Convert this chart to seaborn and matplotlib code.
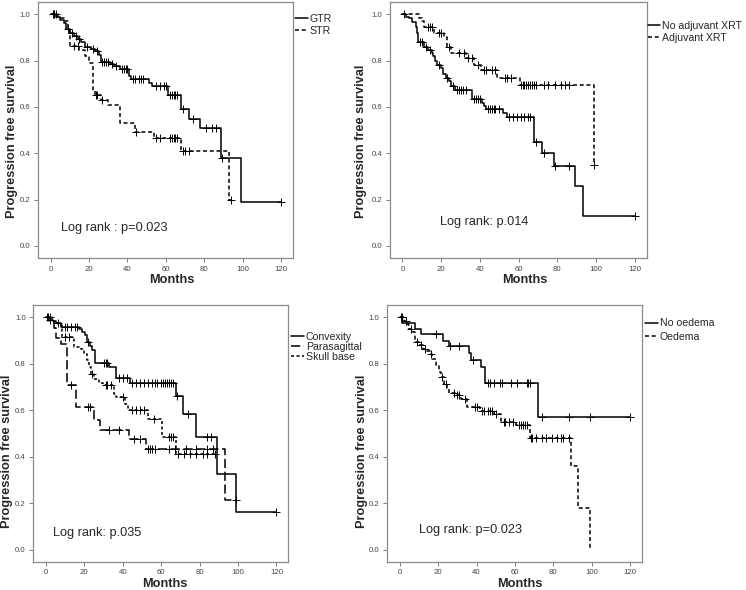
import numpy as np
import pandas as pd
import matplotlib
matplotlib.use("Agg")
import matplotlib.pyplot as plt
from matplotlib.lines import Line2D
import seaborn as sns

# ---------------- data ----------------
# Panel A: extent of resection
gtr_t = [3, 5, 7, 8, 10, 12, 14, 16, 18, 21, 23, 25, 26, 31, 33, 36, 41, 42, 51, 53, 61, 68, 72, 78, 89, 99]
gtr_s = [0.99, 0.975, 0.96, 0.935, 0.92, 0.905, 0.895, 0.88, 0.86, 0.85, 0.84, 0.825, 0.795, 0.785, 0.775,
         0.765, 0.735, 0.72, 0.705, 0.69, 0.65, 0.59, 0.55, 0.51, 0.38, 0.19]
gtr_c = [1, 2, 9, 11, 13, 15, 19, 22, 24, 27, 28, 29, 30, 32, 34, 37, 38, 39, 40, 43, 44, 46, 47, 48, 55, 57,
         59, 60, 62, 63, 64, 65, 66, 69, 74, 81, 84, 86, 89.5, 120]
str_t = [4, 7, 9, 10, 15, 18, 20, 22, 23, 26, 30, 36, 44, 54, 68, 93]
str_s = [0.985, 0.97, 0.93, 0.865, 0.845, 0.82, 0.79, 0.67, 0.65, 0.63, 0.61, 0.53, 0.49, 0.465, 0.41, 0.20]
str_c = [2, 3, 12, 14, 23.5, 24, 27, 44.5, 55, 57, 62, 63, 64, 65, 66, 69, 70, 72, 94]

# Panel B: adjuvant radiotherapy
noxrt_t = [2, 3.5, 5, 7, 7.5, 8, 11, 13, 15, 16, 17, 18, 20, 21, 22.5, 24, 25, 27, 36, 41, 42, 43, 52, 54,
           68, 72, 78, 89, 93]
noxrt_s = [0.99, 0.985, 0.968, 0.947, 0.918, 0.878, 0.86, 0.847, 0.832, 0.818, 0.797, 0.782, 0.768, 0.74,
           0.725, 0.71, 0.69, 0.672, 0.635, 0.617, 0.603, 0.592, 0.575, 0.557, 0.45, 0.40, 0.345, 0.26, 0.13]
noxrt_c = [1, 9, 10, 12, 14, 19, 23, 26, 28, 29, 30, 31, 33, 37, 38, 39, 40, 44, 45, 46, 47, 48, 50, 55, 57,
           59, 61, 63, 65, 66, 69, 73, 79, 86, 120]
xrt_t = [8.5, 10, 11, 16.5, 21.5, 23, 25, 33, 37, 40.5, 49, 60.5, 99]
xrt_s = [0.985, 0.97, 0.947, 0.918, 0.9, 0.86, 0.832, 0.81, 0.782, 0.76, 0.725, 0.695, 0.35]
xrt_c = [13, 14, 15, 19, 20, 24, 29, 32, 34, 36, 39, 42, 43, 46, 48, 53, 54, 56, 61, 62, 63, 64, 65, 66, 67,
         68, 69, 73, 75, 79, 82, 84, 86, 99]

# Panel C: tumour location
conv_t = [1, 3.5, 5, 8, 17, 19, 20.5, 21.5, 23, 24, 25.5, 33, 36.5, 43.5, 67.5, 71.5, 78, 89, 99]
conv_s = [0.99, 0.985, 0.975, 0.958, 0.951, 0.937, 0.922, 0.894, 0.875, 0.858, 0.805, 0.786, 0.74, 0.719,
          0.66, 0.585, 0.485, 0.325, 0.16]
conv_c = [0.5, 2, 6, 10, 11, 13, 15, 16, 22, 30, 31, 32, 38, 40, 42, 45, 47, 49, 51, 53, 55, 57, 58, 60, 61,
          62, 63, 64, 65, 66, 68, 74, 84, 86, 120]
para_t = [2, 4, 5, 8, 11, 15.5, 25, 28, 43, 52, 93]
para_s = [0.985, 0.955, 0.91, 0.885, 0.71, 0.614, 0.557, 0.514, 0.475, 0.433, 0.215]
para_c = [13, 22, 23, 33, 38, 46, 49, 53, 54, 55, 57, 64, 67, 73, 78, 84, 87, 99]
skull_t = [3, 4, 6, 8.5, 14.5, 18, 20, 21.5, 22.5, 23.5, 25, 27.5, 29.5, 35.5, 36.5, 41, 42.5, 53, 60.5, 67.5]
skull_s = [0.985, 0.975, 0.966, 0.915, 0.872, 0.862, 0.843, 0.815, 0.786, 0.757, 0.736, 0.719, 0.71, 0.671,
           0.657, 0.628, 0.6, 0.564, 0.485, 0.41]
skull_c = [1, 2, 10, 12, 24, 31, 32, 34, 40, 45, 47, 49, 51, 56, 64, 65, 66, 69, 72, 75, 78, 82, 84, 88]

# Panel D: peritumoural oedema
noed_t = [1, 8, 11, 22.5, 25.5, 36, 37, 42.5, 44.5, 72]
noed_s = [0.975, 0.951, 0.927, 0.90, 0.875, 0.845, 0.815, 0.785, 0.716, 0.573]
noed_c = [0.5, 19, 26, 31, 38, 46, 47, 49, 52, 53, 58, 61, 66, 67, 68, 74, 88, 99, 120]
oed_t = [2, 4, 5, 7, 8, 10, 12, 14, 15.5, 17, 19, 20.5, 21.5, 23, 24.5, 25.5, 29, 32, 35, 41.5, 49, 52.5,
         60.5, 68, 89, 93, 99]
oed_s = [0.985, 0.965, 0.95, 0.935, 0.895, 0.88, 0.865, 0.855, 0.844, 0.822, 0.793, 0.765, 0.743, 0.714,
         0.695, 0.675, 0.664, 0.65, 0.614, 0.595, 0.585, 0.55, 0.535, 0.48, 0.36, 0.18, 0.0]
oed_c = [1, 3, 6, 9, 11, 13, 16, 22, 24, 28, 30, 31, 34, 39, 40, 43, 44, 46, 47, 48, 50, 54, 55, 57, 59, 62,
         63, 64, 65, 66, 68.5, 69, 71, 74, 76, 79, 82, 84, 85, 88]

x_ticks = [0, 20, 40, 60, 80, 100, 120]
y_ticks = [0.0, 0.2, 0.4, 0.6, 0.8, 1.0]
x_label = "Months"
y_label = "Progression free survival"

SOLID = "-"
SHORT = (0, (2.6, 1.8))
LONG = (0, (6.0, 2.4))
SKULL = (0, (2.0, 1.6))

panels = [
    dict(curves=[("GTR", gtr_t, gtr_s, gtr_c, SOLID), ("STR", str_t, str_s, str_c, SHORT)],
         text="Log rank : p=0.023", rect=[0.0509, 0.5627, 0.342, 0.434],
         txt=(0.09, 0.117), leg=(1.008, 0.953), lsp=0.2, ylab=(-0.078, 0.457), xlab=(0.525, -0.0625)),
    dict(curves=[("No adjuvant XRT", noxrt_t, noxrt_s, noxrt_c, SOLID), ("Adjuvant XRT", xrt_t, xrt_s, xrt_c, SHORT)],
         text="Log rank: p.014", rect=[0.5224, 0.5627, 0.345, 0.434],
         txt=(0.195, 0.142), leg=(1.002, 0.925), lsp=0.15, ylab=(-0.088, 0.457), xlab=(0.525, -0.0625)),
    dict(curves=[("Convexity", conv_t, conv_s, conv_c, SOLID), ("Parasagittal", para_t, para_s, para_c, LONG),
                 ("Skull base", skull_t, skull_s, skull_c, SKULL)],
         text="Log rank: p.035", rect=[0.0447, 0.048, 0.342, 0.435],
         txt=(0.078, 0.11), leg=(1.01, 0.895), lsp=0.0, ylab=(-0.08, 0.431), xlab=(0.515, -0.064)),
    dict(curves=[("No oedema", noed_t, noed_s, noed_c, SOLID), ("Oedema", oed_t, oed_s, oed_c, SHORT)],
         text="Log rank: p=0.023", rect=[0.519, 0.048, 0.342, 0.435],
         txt=(0.123, 0.123), leg=(1.01, 0.948), lsp=0.3, ylab=(-0.077, 0.431), xlab=(0.519, -0.064)),
]

sns.set_theme(style="white")
plt.rcParams["font.family"] = ["Liberation Sans", "DejaVu Sans"]

fig = plt.figure(figsize=(7.46, 5.9), dpi=100)
fig.patch.set_facecolor("white")


def step_frame(ev_t, ev_s, cens):
    t = [0.0] + list(ev_t)
    s = [1.0] + list(ev_s)
    end = max(cens) if len(cens) else t[-1]
    if end > t[-1]:
        t.append(end)
        s.append(s[-1])
    return pd.DataFrame({"time": t, "surv": s})


def censor_frame(ev_t, ev_s, cens):
    levels = np.r_[1.0, ev_s]
    idx = np.searchsorted(np.asarray(ev_t, float), np.asarray(cens, float), side="right")
    return pd.DataFrame({"time": cens, "surv": levels[idx]})


for p in panels:
    ax = fig.add_axes(p["rect"])
    handles = []
    for name, et, es, ec, ls in p["curves"]:
        df = step_frame(et, es, ec)
        sns.lineplot(data=df, x="time", y="surv", ax=ax, estimator=None, sort=False,
                     drawstyle="steps-post", color="black", linewidth=1.1, linestyle=ls)
        cf = censor_frame(et, es, ec)
        sns.scatterplot(data=cf, x="time", y="surv", ax=ax, marker="+", s=26, color="black",
                        linewidth=0.7, zorder=3)
        handles.append(Line2D([0], [0], color="black", lw=1.1, linestyle=ls, label=name))
    ax.set_xlim(-6.6, 126.3)
    ax.set_ylim(-0.052, 1.053)
    ax.set_xticks(x_ticks)
    ax.set_yticks(y_ticks)
    ax.set_xticklabels([str(v) for v in x_ticks])
    ax.set_yticklabels([f"{v:.1f}" for v in y_ticks])
    ax.tick_params(axis="both", labelsize=5.6, labelcolor="#444444", length=3, width=0.6,
                   color="#666666", direction="out", pad=2.5, bottom=True, left=True)
    for sp in ax.spines.values():
        sp.set_color("#8a8a8a")
        sp.set_linewidth(0.9)
    ax.set_xlabel(x_label, fontsize=9.2, fontweight="bold")
    ax.set_ylabel(y_label, fontsize=9.2, fontweight="bold")
    ax.xaxis.set_label_coords(*p["xlab"])
    ax.yaxis.set_label_coords(*p["ylab"])
    ax.text(p["txt"][0], p["txt"][1], p["text"], transform=ax.transAxes, fontsize=9.2,
            va="center", ha="left")
    ax.legend(handles=handles, loc="upper left", bbox_to_anchor=p["leg"], frameon=False,
              fontsize=7.6, handlelength=1.2, handletextpad=0.2, borderaxespad=0, borderpad=0,
              labelspacing=p["lsp"])

fig.savefig("out.png", dpi=100, facecolor="white")
